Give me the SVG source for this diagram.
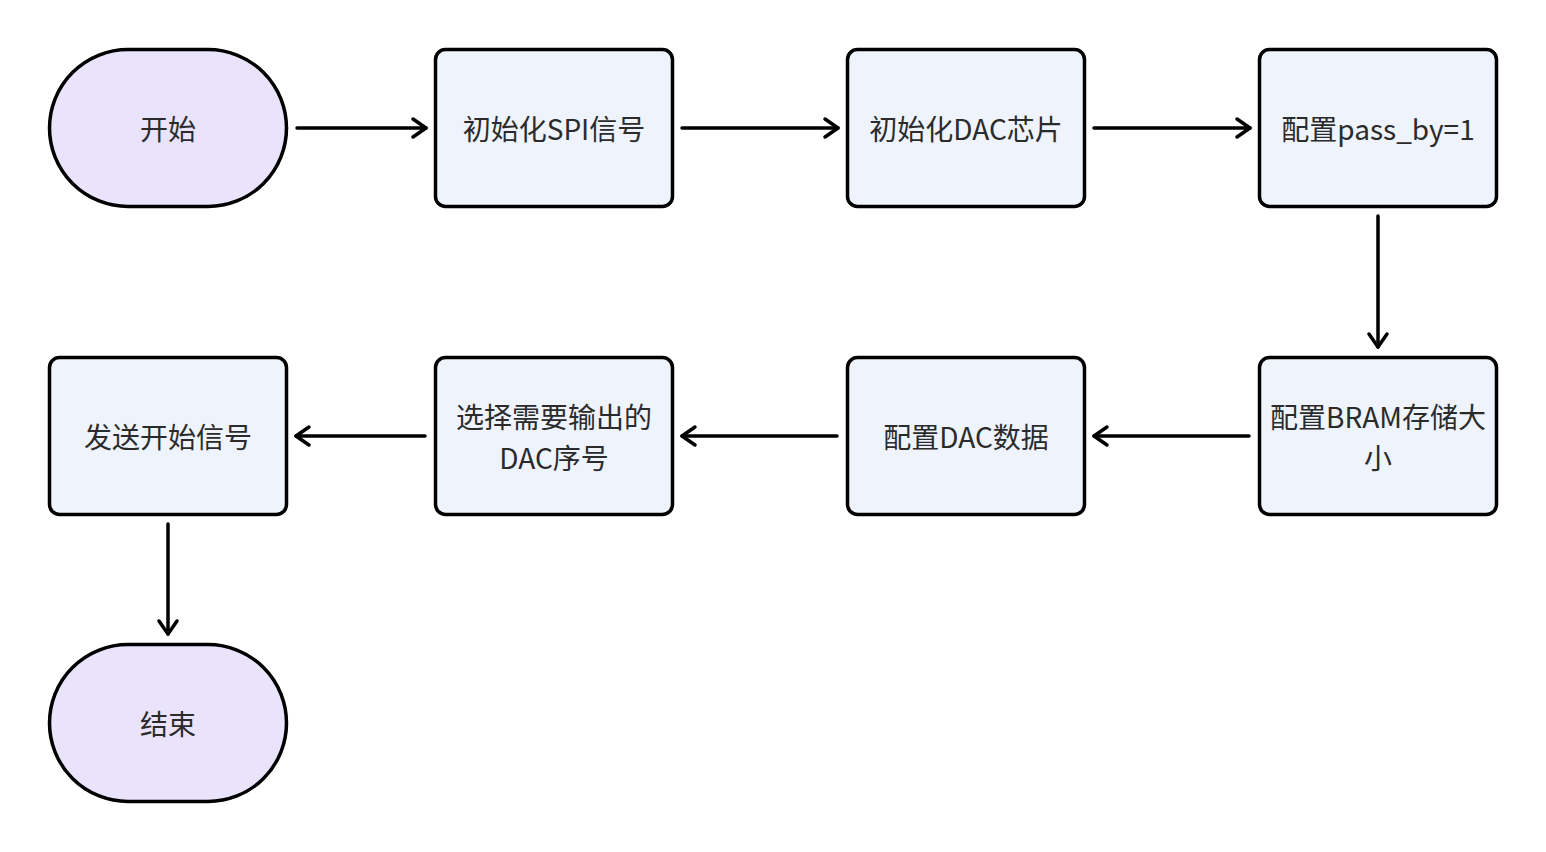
<svg xmlns="http://www.w3.org/2000/svg" width="1546" height="852" viewBox="0 0 1546 852">
<defs>
<marker id="arr" viewBox="0 0 24 24" refX="19" refY="12" markerWidth="24" markerHeight="24" markerUnits="userSpaceOnUse" orient="auto">
<path d="M6 3 L19 12 L6 21" fill="none" stroke="#000" stroke-width="3.5" stroke-linecap="round" stroke-linejoin="round"/>
</marker>
</defs>
<style>
.term{fill:#E9E3FC;stroke:#000;stroke-width:3.5}
.box{fill:#EEF3FC;stroke:#000;stroke-width:3.5}
.lbl{font-family:"Noto Sans CJK SC","Noto Sans",sans-serif;font-size:28px;fill:#2b2b2b;text-anchor:middle;dominant-baseline:central}
.edge{fill:none;stroke:#000;stroke-width:3.5;stroke-linecap:round;marker-end:url(#arr)}
</style>
<rect width="1546" height="852" fill="#fff"/>
<g id="connectors">
<path class="edge" d="M297 128 H426"/>
<path class="edge" d="M682 128 H838"/>
<path class="edge" d="M1094 128 H1250"/>
<path class="edge" d="M1378 216 V347"/>
<path class="edge" d="M1249 436 H1094"/>
<path class="edge" d="M837 436 H682"/>
<path class="edge" d="M425 436 H296"/>
<path class="edge" d="M168 524 V634"/>
</g>
<g id="start"><rect class="term" x="49.5" y="49.5" width="237" height="157" rx="78.5"/><text class="lbl" x="168" y="128">开始</text></g>
<g id="n1"><rect class="box" x="435.5" y="49.5" width="237" height="157" rx="10"/><text class="lbl" x="554" y="128">初始化SPI信号</text></g>
<g id="n2"><rect class="box" x="847.5" y="49.5" width="237" height="157" rx="10"/><text class="lbl" x="966" y="128">初始化DAC芯片</text></g>
<g id="n3"><rect class="box" x="1259.5" y="49.5" width="237" height="157" rx="10"/><text class="lbl" x="1378" y="128">配置pass_by=1</text></g>
<g id="n4"><rect class="box" x="1259.5" y="357.5" width="237" height="157" rx="10"/><text class="lbl" x="1378" y="416">配置BRAM存储大</text><text class="lbl" x="1378" y="457">小</text></g>
<g id="n5"><rect class="box" x="847.5" y="357.5" width="237" height="157" rx="10"/><text class="lbl" x="966" y="436">配置DAC数据</text></g>
<g id="n6"><rect class="box" x="435.5" y="357.5" width="237" height="157" rx="10"/><text class="lbl" x="554" y="416">选择需要输出的</text><text class="lbl" x="554" y="457">DAC序号</text></g>
<g id="n7"><rect class="box" x="49.5" y="357.5" width="237" height="157" rx="10"/><text class="lbl" x="168" y="436">发送开始信号</text></g>
<g id="end"><rect class="term" x="49.5" y="644.5" width="237" height="157" rx="78.5"/><text class="lbl" x="168" y="723">结束</text></g>
</svg>
